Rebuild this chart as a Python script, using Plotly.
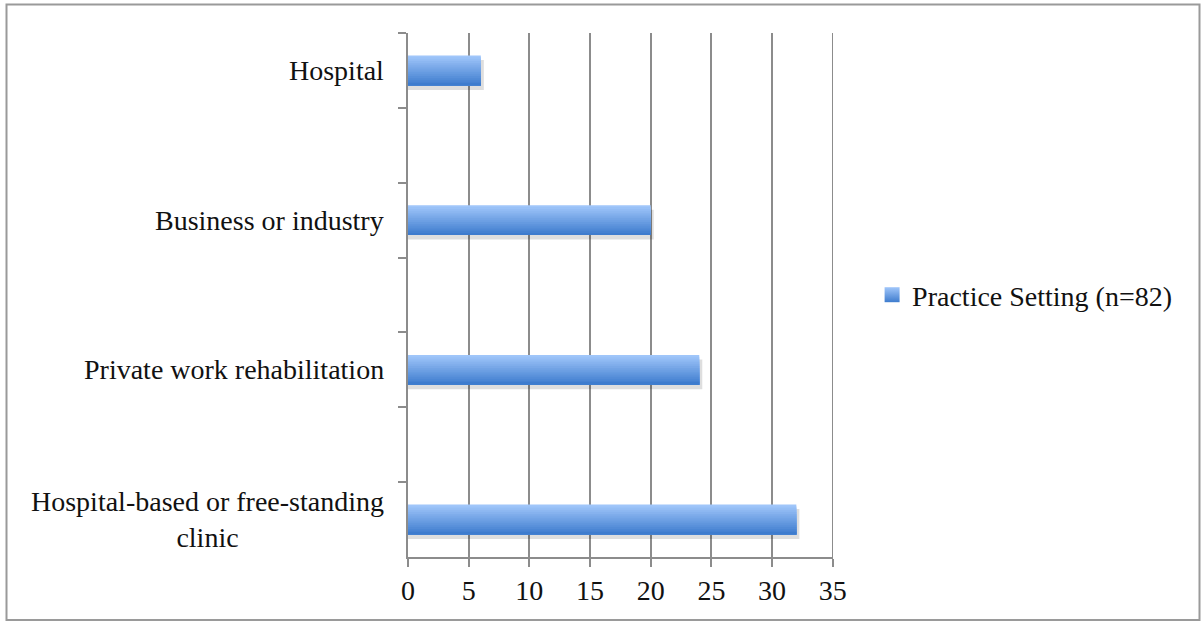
import plotly.graph_objects as go

# Practice settings, listed top to bottom
settings = [
    "Hospital",
    "Business or industry",
    "Private work rehabilitation",
    "Hospital-based or free-standing<br>clinic",
]
counts = [6, 20, 24, 32]
series_name = "Practice Setting (n=82)"
x_ticks = [0, 5, 10, 15, 20, 25, 30, 35]

# Empty category slots between settings give the spacing between bars
slots = []
for i, s in enumerate(settings):
    slots.append(s)
    if i < len(settings) - 1:
        slots.append(" " * (i + 1))

FONT = "Liberation Serif"
FS = 28
GRID = "#8c8c8c"
TOP = (160, 198, 250)
BOT = (62, 124, 206)
X_MAX = x_ticks[-1]

fig = go.Figure()

bar_w = 0.40
# soft drop shadow behind each bar
fig.add_trace(go.Bar(
    y=settings, x=[c + 0.25 for c in counts], orientation="h",
    width=bar_w, offset=-bar_w / 2 + 0.06,
    marker=dict(color="rgba(0,0,0,0.13)", line=dict(width=0)),
    showlegend=False, hoverinfo="skip",
))

# vertical gradient: each strip runs from its start down to the bar's lower edge
n = 16
h = bar_w / n
for k in range(n):
    t = k / (n - 1)
    col = tuple(round(TOP[j] + (BOT[j] - TOP[j]) * t) for j in range(3))
    fig.add_trace(go.Bar(
        y=settings, x=counts, orientation="h",
        width=bar_w - k * h, offset=-bar_w / 2 + k * h,
        marker=dict(color="rgb(%d,%d,%d)" % col, line=dict(width=0)),
        showlegend=False,
        hovertemplate="%{y}: %{x}<extra></extra>",
    ))

# legend key with the same gradient
fig.add_trace(go.Scatter(
    x=[None], y=[None], mode="markers", name=series_name,
    marker=dict(symbol="square", size=15, color="rgb(%d,%d,%d)" % TOP,
                gradient=dict(type="vertical", color="rgb(%d,%d,%d)" % BOT),
                line=dict(width=0)),
))

# category labels, centred line by line
annotations = [
    dict(text=s, xref="paper", yref="y", x=0, y=s, xanchor="right", yanchor="middle",
         xshift=-22, align="center", showarrow=False,
         font=dict(family=FONT, size=FS, color="#111"))
    for s in settings
]

fig.update_layout(
    width=1201, height=622,
    barmode="overlay",
    paper_bgcolor="white", plot_bgcolor="white",
    margin=dict(l=408, r=368, t=33, b=65),
    font=dict(family=FONT, size=FS, color="#111"),
    legend=dict(
        x=1.092, y=0.5, xanchor="left", yanchor="middle",
        font=dict(family=FONT, size=FS, color="#111"),
        bgcolor="rgba(0,0,0,0)", itemwidth=30,
    ),
    xaxis=dict(
        range=[0, X_MAX + 0.02], tickvals=x_ticks, showgrid=True, gridcolor=GRID, gridwidth=1.5,
        zeroline=False, showline=True, linecolor=GRID, linewidth=1.5,
        ticks="outside", ticklen=8, tickcolor=GRID, tickwidth=1.5,
        tickfont=dict(family=FONT, size=FS, color="#111"),
    ),
    yaxis=dict(
        type="category", categoryorder="array", categoryarray=slots,
        autorange="reversed", showgrid=False, zeroline=False,
        showline=True, linecolor=GRID, linewidth=2,
        ticks="outside", ticklen=8, tickcolor=GRID, tickwidth=1.5,
        tickson="boundaries", showticklabels=False,
    ),
    annotations=annotations,
    shapes=[
        # outer chart frame
        dict(type="rect", xref="paper", yref="paper",
             x0=(6.5 - 408) / 425, x1=(1199.5 - 408) / 425,
             y0=(557 - 620) / 524, y1=(557 - 4.5) / 524,
             line=dict(color="#9a9a9a", width=2), layer="below"),
        # gridline at the last tick, on the plot's right edge
        dict(type="line", xref="x", yref="paper", x0=X_MAX, x1=X_MAX, y0=0, y1=1,
             line=dict(color=GRID, width=1.5), layer="below"),
    ],
)

fig.write_html("out.html")
